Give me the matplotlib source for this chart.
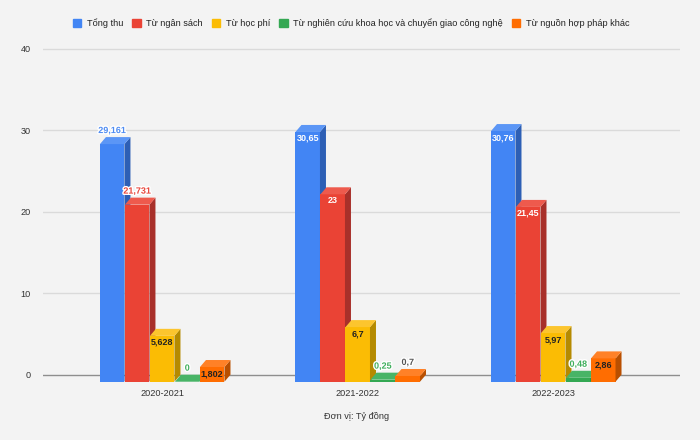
from matplotlib import pyplot as plt
from matplotlib.patches import Polygon, Patch
import matplotlib.patheffects as pe

# data
years = ["2020-2021", "2021-2022", "2022-2023"]
series_names = ["Tổng thu", "Từ ngân sách", "Từ học phí",
                "Từ nghiên cứu khoa học và chuyển giao công nghệ",
                "Từ nguồn hợp pháp khác"]
tong_thu = [29.161, 30.65, 30.76]
ngan_sach = [21.731, 23, 21.45]
hoc_phi = [5.628, 6.7, 5.97]
nghien_cuu = [0, 0.25, 0.48]
hop_phap_khac = [1.802, 0.7, 2.86]
y_ticks = [0, 10, 20, 30, 40]
unit_label = "Đơn vị: Tỷ đồng"

all_series = [tong_thu, ngan_sach, hoc_phi, nghien_cuu, hop_phap_khac]

front_cols = ["#4285f4", "#ea4335", "#fbbc04", "#34a853", "#ff6d01"]
side_cols = ["#2d5fb5", "#a8302a", "#b58a00", "#26803f", "#b94f00"]
top_cols = ["#5b96f6", "#ee5a4d", "#fcc52e", "#48b466", "#ff8127"]
txt_in = ["white", "white", "#222222", "#222222", "#222222"]
txt_out = ["#4f8cf2", "#e8463b", "#9a9a9a", "#3fae5c", "#555555"]

plt.rcParams['font.family'] = ['Liberation Sans', 'DejaVu Sans']
bg = "#f3f3f3"

fig = plt.figure(figsize=(7, 4.4), dpi=100, facecolor=bg)
ax = fig.add_axes([43 / 700, 0.1325, 637 / 700, 0.765], facecolor=bg)

# 3d-ish geometry (in data units)
pitch = 0.1279
width = 0.1253
dx = 0.0307
dy = 0.859

ax.set_xlim(-0.611, 2.647)
ax.set_ylim(-dy, 40.45)

for yt in y_ticks:
    ax.axhline(yt, color="#8e8e8e" if yt == 0 else "#dadada", lw=1, zorder=0)

z = 2
for i, vals in enumerate(all_series):
    for j, v in enumerate(vals):
        x0 = j - 2.5 * pitch + i * pitch
        x1 = x0 + width
        ax.bar(x0, v, width=width, bottom=-dy, align="edge",
               color=front_cols[i], zorder=z + j * 10 + i)
        side = Polygon([(x1, -dy), (x1 + dx, 0), (x1 + dx, v), (x1, v - dy)],
                       closed=True, color=side_cols[i], lw=0,
                       zorder=z + j * 10 + i)
        top = Polygon([(x0, v - dy), (x0 + dx, v), (x1 + dx, v), (x1, v - dy)],
                      closed=True, color=top_cols[i], lw=0,
                      zorder=z + j * 10 + i)
        ax.add_patch(side)
        ax.add_patch(top)

        lab = f"{v:g}".replace(".", ",")
        xc = (x0 + x1) / 2
        if len(lab) <= 5 and v >= 1.5:
            ax.text(xc, v - dy - 0.8, lab, ha="center", va="center",
                    fontsize=6.5, fontweight="bold", color=txt_in[i],
                    zorder=100)
        else:
            ax.text(xc, v - dy + 1.66, lab, ha="center", va="center",
                    fontsize=6.5, fontweight="bold", color=txt_out[i],
                    zorder=100,
                    path_effects=[pe.withStroke(linewidth=2, foreground="white")])

ax.set_yticks(y_ticks)
ax.set_xticks(range(len(years)))
ax.set_xticklabels(years)
ax.tick_params(axis="both", length=0, labelsize=6.6, colors="#333333")
ax.tick_params(axis="x", pad=5)
ax.tick_params(axis="y", pad=9)
for s in ax.spines.values():
    s.set_visible(False)

fig.text(357 / 700, 1 - 416 / 440, unit_label, ha="center", va="center",
         fontsize=6.6, color="#333333")

handles = [Patch(color=c) for c in front_cols]
fig.legend(handles, series_names, loc="center", ncol=5, frameon=False,
           bbox_to_anchor=(351 / 700, 1 - 23 / 440), fontsize=6.6,
           handlelength=0.95, handleheight=0.95, handletextpad=0.6,
           columnspacing=0.95, labelcolor="#222222")

plt.savefig("out.png", dpi=100, facecolor=bg)
